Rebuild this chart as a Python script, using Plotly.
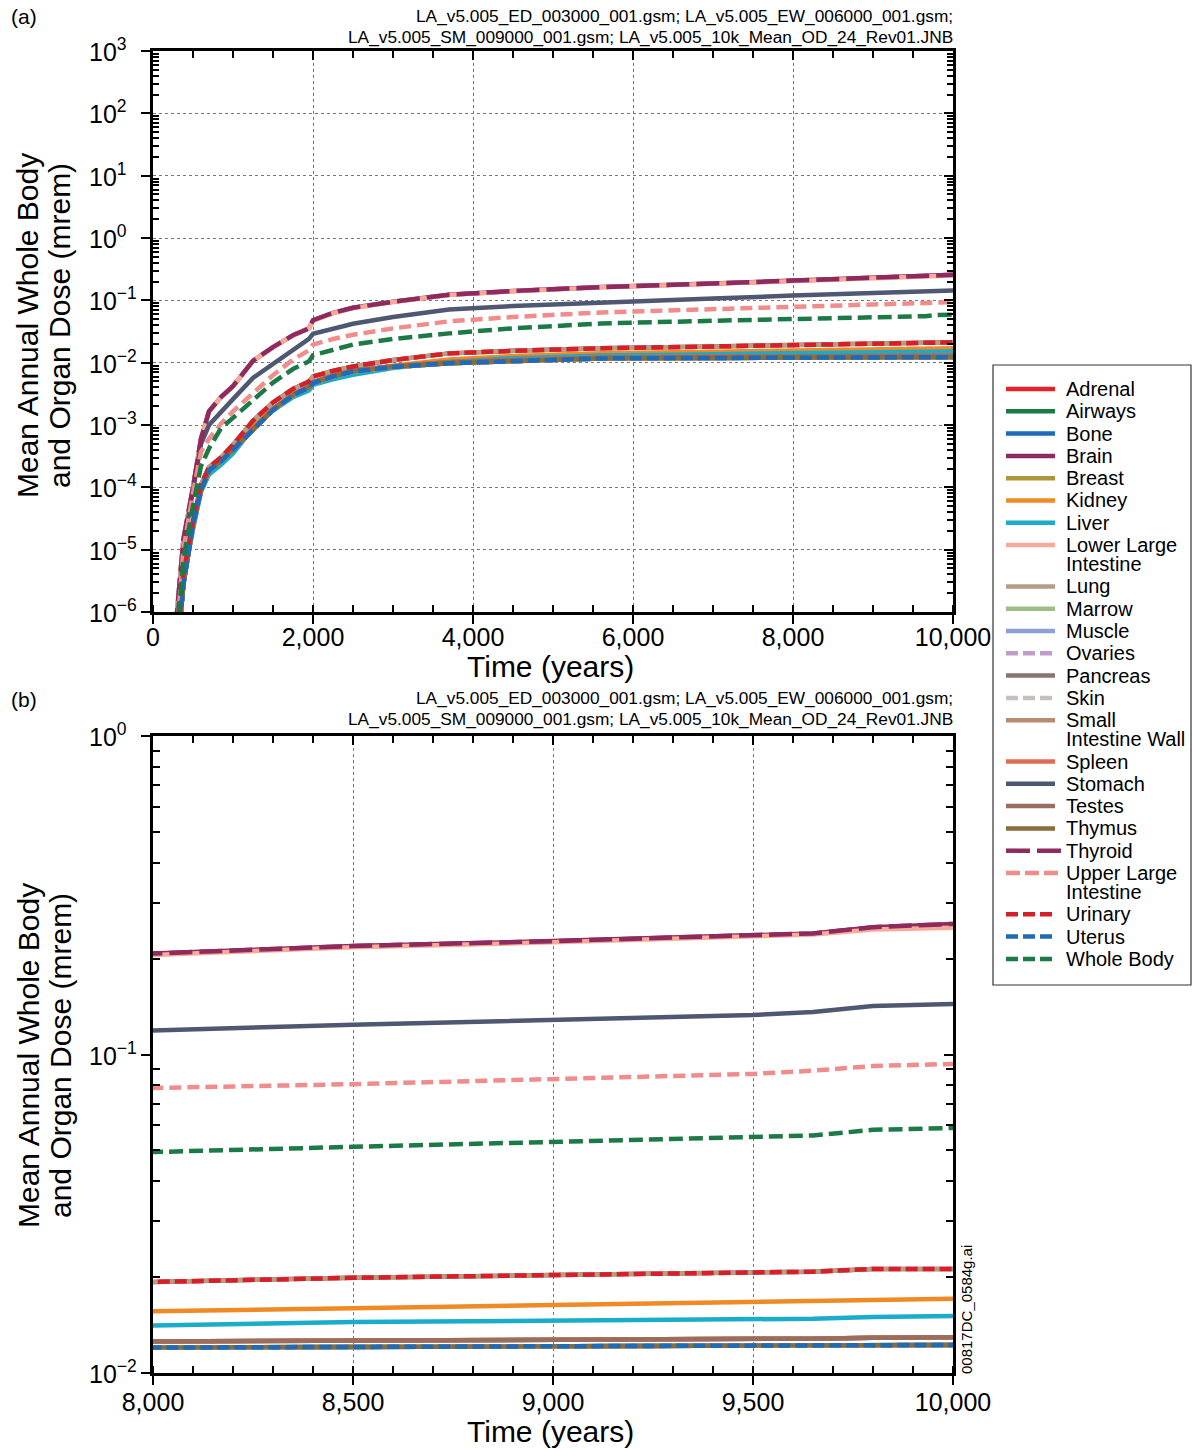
import plotly.graph_objects as go

W, H = 1192, 1449

# ---------------- data ----------------
TIME = [280, 380, 500, 600, 700, 850, 1000, 1250, 1500, 1750, 1950, 2000, 2250, 2500,
        3000, 3700, 4500, 5600, 7000, 8000, 8500, 9000, 9500, 9650, 9800, 10000]

THYROID = [5e-7, 1.45e-5, 1.0e-4, 6.0e-4, 1.66e-3, 2.8e-3, 4.2e-3, 1.07e-2, 1.78e-2, 2.75e-2,
           3.55e-2, 4.8e-2, 6.3e-2, 7.6e-2, 9.5e-2, 0.123, 0.141, 0.163, 0.186,
           0.207, 0.219, 0.227, 0.236, 0.240, 0.251, 0.257]
LOWER_LI = [5e-7, 1.45e-5, 1.0e-4, 6.0e-4, 1.66e-3, 2.8e-3, 4.2e-3, 1.07e-2, 1.78e-2, 2.75e-2,
            3.55e-2, 4.7e-2, 6.2e-2, 7.5e-2, 9.4e-2, 0.122, 0.140, 0.162, 0.184,
            0.205, 0.217, 0.225, 0.234, 0.238, 0.247, 0.250]
STOMACH = [3e-7, 1.1e-5, 9e-5, 5e-4, 1.0e-3, 1.66e-3, 2.6e-3, 5.7e-3, 9.6e-3, 1.6e-2,
           2.4e-2, 2.9e-2, 3.5e-2, 4.2e-2, 5.4e-2, 7.1e-2, 8.1e-2, 9.3e-2, 0.107,
           0.119, 0.124, 0.128, 0.133, 0.136, 0.142, 0.144]
UPPER_LI = [2e-7, 1e-5, 8e-5, 3.7e-4, 6e-4, 1.05e-3, 1.66e-3, 3.2e-3, 6.3e-3, 1.12e-2,
            1.58e-2, 1.95e-2, 2.4e-2, 2.8e-2, 3.55e-2, 4.6e-2, 5.4e-2, 6.4e-2, 7.2e-2,
            0.0785, 0.0807, 0.0838, 0.0869, 0.089, 0.092, 0.0934]
WHOLE_BODY = [2e-7, 7e-6, 5e-5, 2.2e-4, 4.2e-4, 8.9e-4, 1.3e-3, 2.45e-3, 4.8e-3, 7.9e-3,
              1.05e-2, 1.32e-2, 1.62e-2, 1.95e-2, 2.4e-2, 2.95e-2, 3.55e-2, 4.25e-2, 4.7e-2,
              0.0494, 0.0513, 0.0531, 0.0551, 0.0557, 0.058, 0.0588]
URINARY = [1.5e-7, 4.2e-6, 2.8e-5, 1.1e-4, 2.1e-4, 3.0e-4, 4.8e-4, 1.17e-3, 2.3e-3, 3.8e-3,
           5.0e-3, 6.0e-3, 7.4e-3, 8.7e-3, 1.1e-2, 1.41e-2, 1.55e-2, 1.7e-2, 1.82e-2,
           0.0194, 0.0199, 0.0203, 0.0207, 0.0208, 0.0212, 0.0212]
KIDNEY = [1.2e-7, 3.5e-6, 2.3e-5, 9e-5, 1.7e-4, 2.5e-4, 3.8e-4, 9.5e-4, 1.85e-3, 3.0e-3,
          3.9e-3, 4.8e-3, 5.9e-3, 7.0e-3, 8.9e-3, 1.12e-2, 1.28e-2, 1.42e-2, 1.5e-2,
          0.0156, 0.01596, 0.01636, 0.01668, 0.0168, 0.0170, 0.0171]
LIVER = [1.1e-7, 3.2e-6, 2.1e-5, 8.5e-5, 1.6e-4, 2.3e-4, 3.5e-4, 8.8e-4, 1.7e-3, 2.8e-3,
         3.6e-3, 4.4e-3, 5.4e-3, 6.4e-3, 8.2e-3, 1.03e-2, 1.18e-2, 1.3e-2, 1.37e-2,
         0.0141, 0.01445, 0.01462, 0.01476, 0.0148, 0.0150, 0.0151]
SPLEEN = [1e-7, 2.9e-6, 2.6e-5, 9.2e-5, 1.9e-4, 2.7e-4, 4.1e-4, 8.6e-4, 1.8e-3, 3.1e-3,
          4.1e-3, 4.85e-3, 6.2e-3, 7.4e-3, 8.8e-3, 1.02e-2, 1.11e-2, 1.21e-2, 1.24e-2,
          0.01253, 0.0126, 0.01268, 0.01278, 0.01282, 0.0129, 0.01294]
BONE = [1e-7, 2.8e-6, 2.5e-5, 8.9e-5, 1.86e-4, 2.6e-4, 4.0e-4, 8.3e-4, 1.74e-3, 3.0e-3,
        4.0e-3, 4.7e-3, 6.0e-3, 7.2e-3, 8.5e-3, 9.8e-3, 1.07e-2, 1.17e-2, 1.19e-2,
        0.01202, 0.01203, 0.01205, 0.01212, 0.01215, 0.01222, 0.01225]

ORGANS = ["Adrenal", "Airways", "Bone", "Brain", "Breast", "Kidney", "Liver",
          "Lower Large Intestine", "Lung", "Marrow", "Muscle", "Ovaries", "Pancreas",
          "Skin", "Small Intestine Wall", "Spleen", "Stomach", "Testes", "Thymus",
          "Thyroid", "Upper Large Intestine", "Urinary", "Uterus", "Whole Body"]
LEGEND_LINES = [["Adrenal"], ["Airways"], ["Bone"], ["Brain"], ["Breast"], ["Kidney"], ["Liver"],
                ["Lower Large", "Intestine"], ["Lung"], ["Marrow"], ["Muscle"], ["Ovaries"],
                ["Pancreas"], ["Skin"], ["Small", "Intestine Wall"], ["Spleen"], ["Stomach"],
                ["Testes"], ["Thymus"], ["Thyroid"], ["Upper Large", "Intestine"], ["Urinary"],
                ["Uterus"], ["Whole Body"]]
VALUES = [URINARY, BONE, BONE, THYROID, BONE, KIDNEY, LIVER,
          LOWER_LI, URINARY, BONE, BONE, BONE, SPLEEN,
          BONE, SPLEEN, SPLEEN, STOMACH, SPLEEN, BONE,
          THYROID, UPPER_LI, URINARY, BONE, WHOLE_BODY]
COLORS = ["#e8202a", "#1b7a45", "#1f6bb5", "#8e2a5e", "#b0963a", "#f08a24", "#1aadc9",
          "#f6ab9a", "#b59e86", "#9dbf87", "#8fa0d6", "#c09ccb", "#847670",
          "#c8c0bc", "#b98a6e", "#e06a56", "#4e5872", "#9a6e5c", "#8a6d3b",
          "#8e2a5e", "#f08c8c", "#d42129", "#1f6bb5", "#1b7a45"]
DASHES = ["solid", "solid", "solid", "solid", "solid", "solid", "solid",
          "solid", "solid", "solid", "solid", "10px,5px", "solid",
          "10px,5px", "solid", "solid", "solid", "solid", "solid",
          "23px,7px", "12px,6px", "12px,5px", "12px,5px", "14px,6px"]
LEGEND_DASHES = ["solid"] * 11 + ["12px,5px", "solid", "12px,5px"] + ["solid"] * 5 + \
                ["24px,7px", "14px,5px", "12px,5px", "12px,5px", "12px,5px"]
LEGEND_SAMPLE_END = [1055] * 19 + [1061, 1060, 1055, 1055, 1055]

TOP_Y_EXP = [-6, -5, -4, -3, -2, -1, 0, 1, 2, 3]
BOT_Y_EXP = [-2, -1, 0]
TOP_X_TICKS = [0, 2000, 4000, 6000, 8000, 10000]
BOT_X_TICKS = [8000, 8500, 9000, 9500, 10000]

FILES_1 = "LA_v5.005_ED_003000_001.gsm; LA_v5.005_EW_006000_001.gsm;"
FILES_2 = "LA_v5.005_SM_009000_001.gsm; LA_v5.005_10k_Mean_OD_24_Rev01.JNB"

# ---------------- figure ----------------
FONT = "Liberation Sans, Arial, sans-serif"
fig = go.Figure()

for name, vals, col, dash in zip(ORGANS, VALUES, COLORS, DASHES):
    for xa, ya in (("x", "y"), ("x2", "y2")):
        fig.add_trace(go.Scatter(x=TIME, y=vals, mode="lines", name=name,
                                 line=dict(color=col, width=4.5, dash=dash),
                                 xaxis=xa, yaxis=ya, showlegend=False, hoverinfo="name+x+y"))

# empty traces so that the mirrored (inside-tick) overlay axes get drawn
for xa, ya in (("x3", "y3"), ("x4", "y4")):
    fig.add_trace(go.Scatter(x=[], y=[], xaxis=xa, yaxis=ya, showlegend=False,
                             hoverinfo="skip"))


def px_x(p):
    return p / W


def px_y(p):
    return 1 - p / H


XD = [px_x(153), px_x(953)]
YD_TOP = [px_y(612), px_y(51)]
YD_BOT = [px_y(1373), px_y(736)]


def sup(e):
    s = str(e).replace("-", "\u2212")
    return "10<sup>" + s + "</sup>"


top_minor = [k * 10 ** e for e in range(-6, 3) for k in range(2, 10)]
bot_minor = [k * 10 ** e for e in range(-2, 0) for k in range(2, 10)]

axis_common = dict(showline=True, linecolor="black", linewidth=2.8, mirror=True,
                   ticks="outside", ticklen=9, tickwidth=1.5, tickcolor="black",
                   zeroline=False, automargin=False,
                   tickfont=dict(family=FONT, size=25, color="black"))
mirror_common = dict(showline=False, ticks="inside", ticklen=9, tickwidth=1.5,
                     tickcolor="black", showticklabels=False, showgrid=False,
                     zeroline=False, automargin=False)

fig.update_layout(
    template="none",
    width=W, height=H,
    margin=dict(l=0, r=0, t=0, b=0, autoexpand=False),
    paper_bgcolor="white", plot_bgcolor="white",
    font=dict(family=FONT, color="black"),
    showlegend=False,
    xaxis=dict(domain=XD, anchor="y", range=[0, 10000],
               tickvals=TOP_X_TICKS, tickformat=",", ticklabelstandoff=-8,
               showgrid=True, gridcolor="#777", griddash="dot", gridwidth=1,
               minor=dict(dtick=500, tick0=0, ticks="inside", ticklen=7, tickcolor="black",
                          showgrid=False),
               **axis_common),
    yaxis=dict(domain=YD_TOP, anchor="x", type="log", range=[-6, 3],
               tickvals=[10 ** e for e in TOP_Y_EXP], showticklabels=False,
               showgrid=True, gridcolor="#777", griddash="dot", gridwidth=1,
               minor=dict(tickmode="array", tickvals=top_minor, ticks="inside", ticklen=6,
                          tickcolor="black", showgrid=False),
               **axis_common),
    xaxis2=dict(domain=XD, anchor="y2", range=[8000, 10000],
                tickvals=BOT_X_TICKS, tickformat=",", ticklabelstandoff=-4,
                showgrid=True, gridcolor="#777", griddash="dot", gridwidth=1,
                minor=dict(dtick=100, tick0=8000, ticks="inside", ticklen=7, tickcolor="black",
                           showgrid=False),
                **axis_common),
    yaxis2=dict(domain=YD_BOT, anchor="x2", type="log", range=[-2, 0],
                tickvals=[10 ** e for e in BOT_Y_EXP], showticklabels=False,
                showgrid=False,
                minor=dict(tickmode="array", tickvals=bot_minor, ticks="inside", ticklen=7,
                           tickcolor="black", showgrid=False),
                **axis_common),
    # top / right overlay axes carrying inside ticks only
    xaxis3=dict(overlaying="x", anchor="y3", side="top", range=[0, 10000],
                tickvals=TOP_X_TICKS,
                minor=dict(dtick=500, tick0=0, ticks="inside", ticklen=7, tickcolor="black"),
                **mirror_common),
    yaxis3=dict(overlaying="y", anchor="x3", side="right", type="log", range=[-6, 3],
                tickvals=[10 ** e for e in TOP_Y_EXP],
                minor=dict(tickmode="array", tickvals=top_minor, ticks="inside", ticklen=6,
                           tickcolor="black"),
                **mirror_common),
    xaxis4=dict(overlaying="x2", anchor="y4", side="top", range=[8000, 10000],
                tickvals=BOT_X_TICKS,
                minor=dict(dtick=100, tick0=8000, ticks="inside", ticklen=7, tickcolor="black"),
                **mirror_common),
    yaxis4=dict(overlaying="y2", anchor="x4", side="right", type="log", range=[-2, 0],
                tickvals=[10 ** e for e in BOT_Y_EXP],
                minor=dict(tickmode="array", tickvals=bot_minor, ticks="inside", ticklen=7,
                           tickcolor="black"),
                **mirror_common),
)

ann = []
shapes = []


def note(text, x, y, size, xanchor="center", yanchor="middle", **kw):
    ann.append(dict(text=text, x=x, y=y, xref=kw.pop("xref", "paper"),
                    yref=kw.pop("yref", "paper"), xanchor=xanchor, yanchor=yanchor,
                    showarrow=False, font=dict(family=FONT, size=size, color="black"), **kw))


# left-aligned power-of-ten tick labels
for yref, exps in (("y", TOP_Y_EXP), ("y2", BOT_Y_EXP)):
    for e in exps:
        note(sup(e), px_x(87), e, 25, xanchor="left", yref=yref, yshift=1)

# axis titles
for yc in (326, 1056):
    for t, xc in (("Mean Annual Whole Body", 28), ("and Organ Dose (mrem)", 60)):
        note(t, px_x(xc), px_y(yc), 30, textangle=-90)
for yc in (666, 1431):
    note("Time (years)", px_x(550), px_y(yc), 30)
for lab, yc in (("(a)", 16), ("(b)", 699)):
    note(lab, px_x(9), px_y(yc), 21, xanchor="left")
for y1 in (16, 698):
    for txt, yy in ((FILES_1, y1), (FILES_2, y1 + 21)):
        note(txt, px_x(955), px_y(yy), 17.3, xanchor="right")
note("00817DC_0584g.ai", px_x(966), px_y(1310), 15, textangle=-90)

# ---- legend (box, samples, labels) ----
shapes.append(dict(type="rect", xref="paper", yref="paper",
                   x0=px_x(993), x1=px_x(1191), y0=px_y(985), y1=px_y(365),
                   line=dict(color="#333", width=1.2), fillcolor="white", layer="below"))
extra = 0
for i, (lines, col, dash, xe) in enumerate(zip(LEGEND_LINES, COLORS, LEGEND_DASHES,
                                               LEGEND_SAMPLE_END)):
    yc = 389 + 22.3 * i + extra
    shapes.append(dict(type="line", xref="paper", yref="paper",
                       x0=px_x(1006), x1=px_x(xe), y0=px_y(yc), y1=px_y(yc),
                       line=dict(color=col, width=4.5, dash=dash)))
    for j, t in enumerate(lines):
        note(t, px_x(1064), px_y(yc + 19 * j), 20, xanchor="left")
    extra += 19 * (len(lines) - 1)

fig.update_layout(annotations=ann, shapes=shapes)

# remove the browser's default 8 px page margin so the figure fills the window exactly
fig.write_html("out.html",
               config={"displayModeBar": False},
               post_script="document.body.style.margin='0';"
                           "document.body.style.overflow='hidden';")
